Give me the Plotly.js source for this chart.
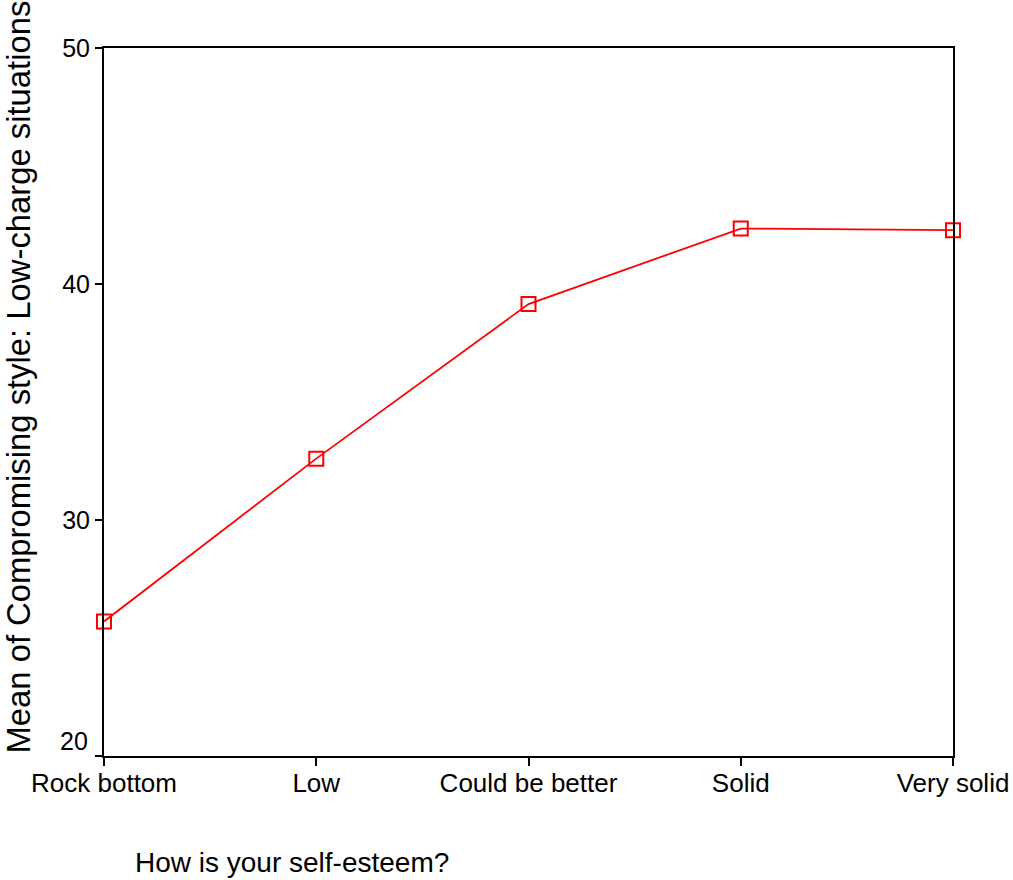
<!DOCTYPE html>
<html>
<head>
<meta charset="utf-8">
<script src="https://cdn.plot.ly/plotly-3.0.1.min.js"></script>
<style>html,body{margin:0;padding:0;background:#fff;}</style>
</head>
<body>
<div id="chart" style="width:1013px;height:880px;"></div>
<script>
var categories = ["Rock bottom", "Low", "Could be better", "Solid", "Very solid"];
var meanValues = [25.7, 32.6, 39.15, 42.35, 42.28];
var yTickVals = [20, 30, 40, 50];
var yTickText = ["", "30", "40", "50"];
var xTitle = "How is your self-esteem?";
var yTitle = "Mean of Compromising style: Low-charge situations";

var font = "Liberation Sans, Arial, sans-serif";

var trace = {
  x: categories,
  y: meanValues,
  type: "scatter",
  mode: "lines+markers",
  cliponaxis: false,
  line: {color: "#ff0000", width: 1.8},
  marker: {symbol: "square-open", size: 14, color: "#ff0000", line: {color: "#ff0000", width: 2}},
  hoverinfo: "x+y"
};

var layout = {
  width: 1013,
  height: 880,
  margin: {l: 104, r: 60, t: 48, b: 124},
  paper_bgcolor: "#ffffff",
  plot_bgcolor: "#ffffff",
  showlegend: false,
  font: {family: font, color: "#000000", size: 25},
  xaxis: {
    type: "category",
    range: [0, 4],
    showgrid: false,
    zeroline: false,
    showline: true,
    mirror: true,
    linecolor: "#000000",
    linewidth: 2,
    ticks: "outside",
    ticklen: 8,
    tickwidth: 2,
    tickcolor: "#000000",
    ticklabelstandoff: -5,
    tickfont: {family: font, size: 26, color: "#000000"}
  },
  yaxis: {
    range: [20, 50],
    tickvals: yTickVals,
    ticktext: yTickText,
    showgrid: false,
    zeroline: false,
    showline: true,
    mirror: true,
    linecolor: "#000000",
    linewidth: 2,
    ticks: "outside",
    ticklen: 7,
    tickwidth: 2,
    tickcolor: "#000000",
    tickfont: {family: font, size: 25, color: "#000000"}
  },
  annotations: [
    {
      text: yTickVals[0].toString(),
      xref: "paper", yref: "y",
      x: 0, y: yTickVals[0],
      xanchor: "right", yanchor: "middle",
      xshift: -14, yshift: 15,
      showarrow: false,
      font: {family: font, size: 25, color: "#000000"}
    },
    {
      text: xTitle,
      xref: "paper", yref: "paper",
      x: (133 - 104) / 849, y: 0,
      xanchor: "left", yanchor: "middle",
      yshift: -106,
      showarrow: false,
      font: {family: font, size: 28, color: "#000000"}
    },
    {
      text: yTitle,
      xref: "paper", yref: "paper",
      x: (18 - 104) / 849, y: 0,
      xanchor: "center", yanchor: "bottom",
      textangle: -90,
      showarrow: false,
      font: {family: font, size: 32.8, color: "#000000"}
    }
  ]
};

Plotly.newPlot("chart", [trace], layout, {displayModeBar: false, staticPlot: true});
</script>
</body>
</html>
